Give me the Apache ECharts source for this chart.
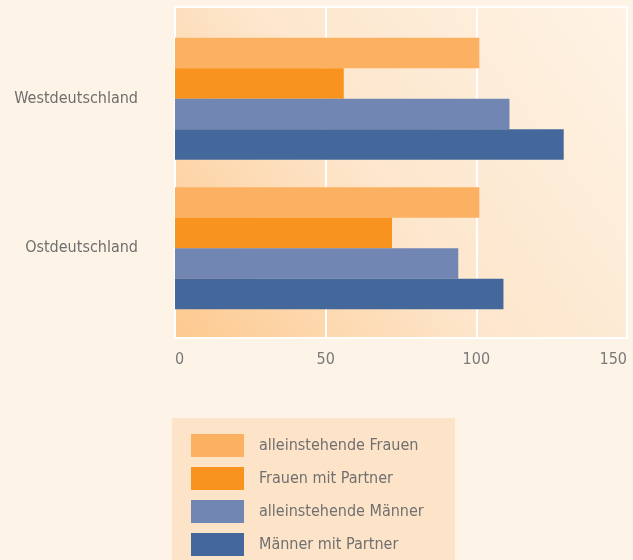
<!DOCTYPE html>
<html>
<head>
<meta charset="utf-8">
<script src="https://cdn.jsdelivr.net/npm/echarts@6/dist/echarts.min.js"></script>
<style>
  html, body { margin: 0; padding: 0; background: #fdf4e7; }
  #chart { width: 633px; height: 560px; }
</style>
</head>
<body>
<div id="chart"></div>
<script>
const regions = ['Westdeutschland', 'Ostdeutschland'];
const seriesNames = ['alleinstehende Frauen', 'Frauen mit Partner', 'alleinstehende Männer', 'Männer mit Partner'];
const singleWomen = [101, 101];
const womenPartner = [56, 72];
const singleMen = [111, 94];
const menPartner = [129, 109];
const xTicks = [0, 50, 100, 150];

const colors = ['#fbb161', '#f7931e', '#7286b4', '#45689c'];
const values = [singleWomen, womenPartner, singleMen, menPartner];
const font = "'Liberation Sans Narrow', 'DejaVu Sans Condensed', sans-serif";
const xMin = xTicks[0], xMax = xTicks[xTicks.length - 1];

const chart = echarts.init(document.getElementById('chart'));
chart.setOption({
  backgroundColor: '#fdf4e7',
  animation: false,
  textStyle: { fontFamily: font },
  graphic: [{
    type: 'rect',
    left: 172, top: 418,
    shape: { width: 283, height: 150 },
    style: { fill: '#fde3c8' },
    z: -1
  }],
  // grid 0: plot background, grid lines, x labels; grid 1: the bars
  grid: [{
    left: 175, right: 6, top: 7, bottom: 222,
    outerBoundsMode: 'none',
    show: true,
    borderColor: '#ffffff',
    borderWidth: 2,
    backgroundColor: new echarts.graphic.LinearGradient(0, 1, 1, 0, [
      { offset: 0, color: '#fdc98f' },
      { offset: 0.45, color: '#fde6cc' },
      { offset: 1, color: '#fef3e5' }
    ])
  }, {
    left: 175, right: 6, top: 24, bottom: 237,
    outerBoundsMode: 'none'
  }],
  legend: {
    orient: 'vertical',
    left: 191, top: 434,
    padding: 0,
    itemWidth: 53, itemHeight: 23, itemGap: 10,
    icon: 'rect',
    data: seriesNames,
    textStyle: { fontFamily: font, fontSize: 16, color: '#707070', padding: [0, 0, 0, 10] }
  },
  xAxis: [{
    type: 'value', gridIndex: 0,
    min: xMin, max: xMax, interval: 50,
    axisLine: { show: false },
    axisTick: { show: false },
    splitLine: { lineStyle: { color: '#ffffff', width: 2 } },
    axisLabel: {
      fontSize: 16, color: '#7a7a7a', margin: 14, fontFamily: font,
      alignMinLabel: 'left', alignMaxLabel: 'right'
    }
  }, {
    type: 'value', gridIndex: 1,
    min: xMin, max: xMax, interval: 50,
    show: false
  }],
  yAxis: [{
    type: 'value', gridIndex: 0,
    show: false
  }, {
    type: 'category', gridIndex: 1,
    inverse: true,
    data: regions,
    axisLine: { show: false },
    axisTick: { show: false },
    axisLabel: { fontSize: 16, color: '#6e6e6e', margin: 37, fontFamily: font }
  }],
  series: seriesNames.map((name, i) => ({
    name,
    type: 'bar',
    xAxisIndex: 1,
    yAxisIndex: 1,
    data: values[i],
    barCategoryGap: '18.5%',
    barGap: '0%',
    itemStyle: { color: colors[i] }
  }))
});
</script>
</body>
</html>
